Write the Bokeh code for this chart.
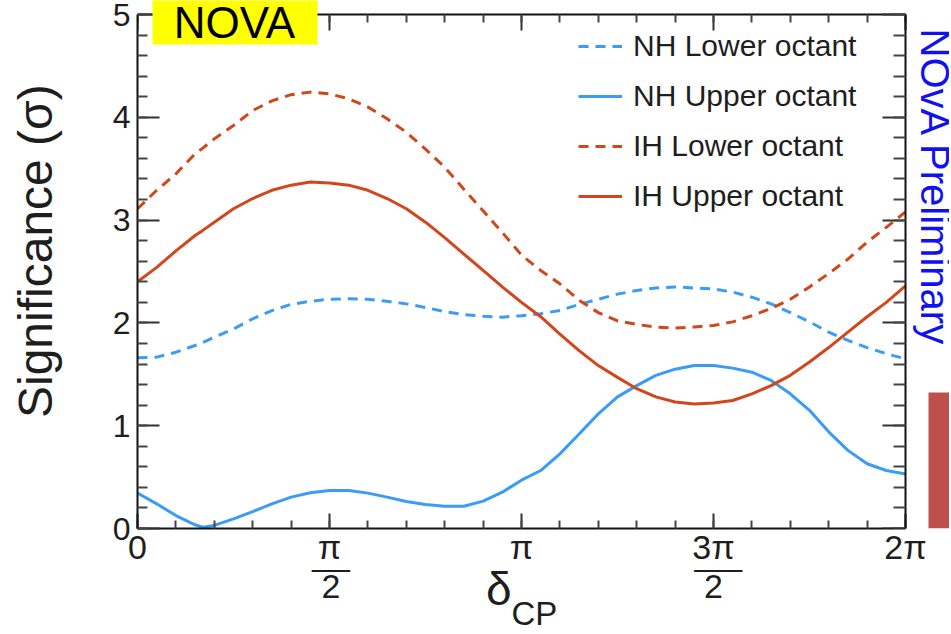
import numpy as np
from bokeh.plotting import figure
from bokeh.models import (FixedTicker, LinearAxis, Range1d, Label, BoxAnnotation,
                          Legend, LegendItem, CustomJSTickFormatter)
from bokeh.embed import file_html
from bokeh.resources import INLINE

# ---------------- data (delta_CP in units of pi) ----------------
delta_over_pi = [0.0, 0.05, 0.1, 0.15, 0.17, 0.2, 0.25, 0.3, 0.35, 0.4, 0.45, 0.5,
                 0.55, 0.6, 0.65, 0.7, 0.75, 0.8, 0.85, 0.9, 0.95, 1.0,
                 1.05, 1.1, 1.15, 1.2, 1.25, 1.3, 1.35, 1.4, 1.45, 1.5,
                 1.55, 1.6, 1.65, 1.7, 1.75, 1.8, 1.85, 1.9, 1.95, 2.0]
nh_lower = [1.66, 1.667, 1.715, 1.78, 1.81, 1.86, 1.94, 2.04, 2.12, 2.18, 2.21, 2.23,
            2.234, 2.23, 2.21, 2.185, 2.15, 2.11, 2.08, 2.065, 2.056, 2.07,
            2.09, 2.12, 2.18, 2.23, 2.28, 2.315, 2.34, 2.35, 2.34, 2.33,
            2.30, 2.25, 2.185, 2.10, 2.01, 1.91, 1.83, 1.76, 1.70, 1.65]
nh_upper = [0.344, 0.24, 0.126, 0.036, 0.012, 0.03, 0.094, 0.165, 0.24, 0.305, 0.347, 0.37,
            0.37, 0.344, 0.305, 0.263, 0.233, 0.217, 0.217, 0.266, 0.353, 0.47,
            0.564, 0.726, 0.92, 1.115, 1.28, 1.39, 1.49, 1.55, 1.585, 1.585,
            1.56, 1.52, 1.44, 1.31, 1.15, 0.94, 0.76, 0.63, 0.564, 0.53]
ih_lower = [3.11, 3.29, 3.45, 3.645, 3.70, 3.79, 3.92, 4.066, 4.16, 4.22, 4.245, 4.228,
            4.18, 4.10, 3.985, 3.855, 3.69, 3.515, 3.30, 3.09, 2.88, 2.66,
            2.51, 2.38, 2.22, 2.10, 2.02, 1.985, 1.96, 1.95, 1.96, 1.975,
            2.01, 2.07, 2.14, 2.23, 2.35, 2.48, 2.62, 2.785, 2.93, 3.08]
ih_upper = [2.40, 2.54, 2.70, 2.85, 2.90, 2.98, 3.11, 3.21, 3.29, 3.34, 3.37, 3.36,
            3.34, 3.29, 3.21, 3.11, 2.98, 2.83, 2.67, 2.51, 2.35, 2.20,
            2.06, 1.89, 1.73, 1.585, 1.47, 1.36, 1.28, 1.23, 1.21, 1.22,
            1.245, 1.31, 1.39, 1.49, 1.62, 1.76, 1.91, 2.06, 2.20, 2.36]
series_labels = ["NH Lower octant", "NH Upper octant", "IH Lower octant", "IH Upper octant"]

x_tick_over_pi = [0, 0.5, 1, 1.5, 2]
x_tick_numerators = ["0", "π", "π", "3π", "2π"]
x_tick_denominators = ["", "2", "", "2", ""]
y_ticks = [0, 1, 2, 3, 4, 5]

# ---------------- styling / geometry ----------------
FONT = "Liberation Sans"
BLUE = "#3a9cf5"
RED = "#d2461c"
TXT = "#1e1e1e"
NB = "\u00a0"
HAIR = "\u200a"
OVL = "\u0305"

X_PX = 768.0          # pixels for 0..2pi
Y_PX = 514.0          # pixels for 0..5
FRAME_W, FRAME_H = 812, 528

x = [float(v * np.pi) for v in delta_over_pi]
x_major = [float(v * np.pi) for v in x_tick_over_pi]
x_minor = [float(k * np.pi / 10) for k in range(21)]
y_minor = [round(k * 0.2, 2) for k in range(26)]
x_lo, x_hi = x_major[0], x_major[-1]
y_lo, y_hi = y_ticks[0], y_ticks[-1]

p = figure(frame_width=FRAME_W, frame_height=FRAME_H, output_backend="svg",
           toolbar_location=None,
           x_range=Range1d(x_lo, x_lo + (x_hi - x_lo) * FRAME_W / X_PX),
           y_range=Range1d(y_lo, y_lo + (y_hi - y_lo) * FRAME_H / Y_PX),
           min_border_left=137, min_border_bottom=0, min_border_top=0, min_border_right=0)
p.xgrid.visible = False
p.ygrid.visible = False
p.outline_line_color = None
p.background_fill_color = "white"
p.border_fill_color = "white"

xticker = FixedTicker(ticks=x_major, minor_ticks=x_minor)
yticker = FixedTicker(ticks=y_ticks, minor_ticks=y_minor)

top_axis = LinearAxis(fixed_location=y_hi)
right_axis = LinearAxis(fixed_location=x_hi)
p.add_layout(top_axis, "above")
p.add_layout(right_axis, "right")

def style_axis(ax, ticker, mj, mn, bounds):
    ax.ticker = ticker
    ax.bounds = bounds
    ax.axis_line_color = "#111111"
    ax.axis_line_width = 2
    ax.major_tick_in = mj
    ax.major_tick_out = 0
    ax.minor_tick_in = mn
    ax.minor_tick_out = 0
    ax.major_tick_line_color = "#333333"
    ax.minor_tick_line_color = "#444444"
    ax.major_tick_line_width = 2
    ax.minor_tick_line_width = 2
    ax.major_label_text_font = FONT
    ax.major_label_text_color = TXT
    ax.axis_label_text_font = FONT
    ax.axis_label_text_font_style = "normal"
    ax.axis_label_text_color = TXT

xaxis = p.below[0]
yaxis = p.left[0]
style_axis(xaxis, xticker, 15, 8, (x_lo, x_hi))
style_axis(top_axis, xticker, 16, 8, (x_lo, x_hi))
style_axis(yaxis, yticker, 22, 10, (y_lo, y_hi))
style_axis(right_axis, yticker, 23, 12, (y_lo, y_hi))

blank = CustomJSTickFormatter(code="return ''")
for ax in (top_axis, right_axis):
    ax.formatter = blank
    ax.major_label_text_font_size = "1px"
    ax.major_label_standoff = 0

def overline(s):
    return "".join(ch + OVL for ch in s)

tick_text = []
for num, den in zip(x_tick_numerators, x_tick_denominators):
    if den:
        if len(num) > 1:
            den_text = NB + den + NB
        else:
            den_text = HAIR + den
        tick_text.append(num + "\n" + overline(den_text))
    else:
        tick_text.append(num)
xaxis.major_label_overrides = {t: s for t, s in zip(x_major, tick_text)}
xaxis.major_label_text_font_size = "34px"
xaxis.major_label_text_line_height = 1.05
xaxis.major_label_standoff = -1
xaxis.axis_label = "δ" + NB * 7
xaxis.axis_label_text_font_size = "46px"
xaxis.axis_label_standoff = -45

cp_axis = LinearAxis(bounds=(x_lo, x_hi), ticker=xticker, formatter=blank,
                     axis_line_color=None, major_tick_line_color=None,
                     minor_tick_line_color=None, major_label_text_font_size="1px",
                     major_label_standoff=0, major_tick_out=0, major_tick_in=0,
                     minor_tick_out=0, minor_tick_in=0,
                     axis_label="CP" + NB * 2, axis_label_text_font=FONT,
                     axis_label_text_font_size="33px", axis_label_text_font_style="normal",
                     axis_label_text_color=TXT, axis_label_standoff=-24)
p.add_layout(cp_axis, "below")

yaxis.major_label_text_font_size = "32px"
yaxis.major_label_standoff = 7
yaxis.axis_label = NB * 2 + "Significance (σ)"
yaxis.axis_label_text_font_size = "48px"
yaxis.axis_label_standoff = 48

# ---------------- curves ----------------
r1 = p.line(x, nh_lower, line_color=BLUE, line_width=3, line_dash="10 7")
r2 = p.line(x, nh_upper, line_color=BLUE, line_width=3)
r3 = p.line(x, ih_lower, line_color=RED, line_width=3, line_dash="10 7")
r4 = p.line(x, ih_upper, line_color=RED, line_width=3)

legend = Legend(items=[LegendItem(label=l, renderers=[r]) for l, r in
                       zip(series_labels, [r1, r2, r3, r4])],
                location=(441, 307), glyph_width=44, glyph_height=50, label_height=50,
                label_standoff=11, spacing=0, padding=0, margin=0,
                border_line_color=None, background_fill_alpha=0,
                label_text_font=FONT, label_text_font_size="30px",
                label_text_color=TXT)
p.add_layout(legend)

# ---------------- decorations ----------------
p.add_layout(BoxAnnotation(left=15, right=180, top=600, bottom=484,
                           left_units="screen", right_units="screen",
                           top_units="screen", bottom_units="screen",
                           fill_color="#ffff00", fill_alpha=1, line_color=None,
                           level="overlay"))
p.add_layout(Label(x=97, y=506, x_units="screen", y_units="screen", text="NOVA",
                   text_font=FONT, text_font_size="44px", text_color="black",
                   text_align="center", text_baseline="alphabetic", level="overlay"))
p.add_layout(Label(x=797, y=500, x_units="screen", y_units="screen",
                   text="NOvA Preliminary", angle=-np.pi / 2, text_font=FONT,
                   text_font_size="40px", text_color="#1010f0", text_align="left",
                   text_baseline="alphabetic"))
p.add_layout(BoxAnnotation(left=791, right=900, top=136, bottom=0,
                           left_units="screen", right_units="screen",
                           top_units="screen", bottom_units="screen",
                           fill_color="#bd4f4c", fill_alpha=1, line_color=None,
                           level="overlay"))

open("out.html", "w").write(file_html(p, INLINE))
